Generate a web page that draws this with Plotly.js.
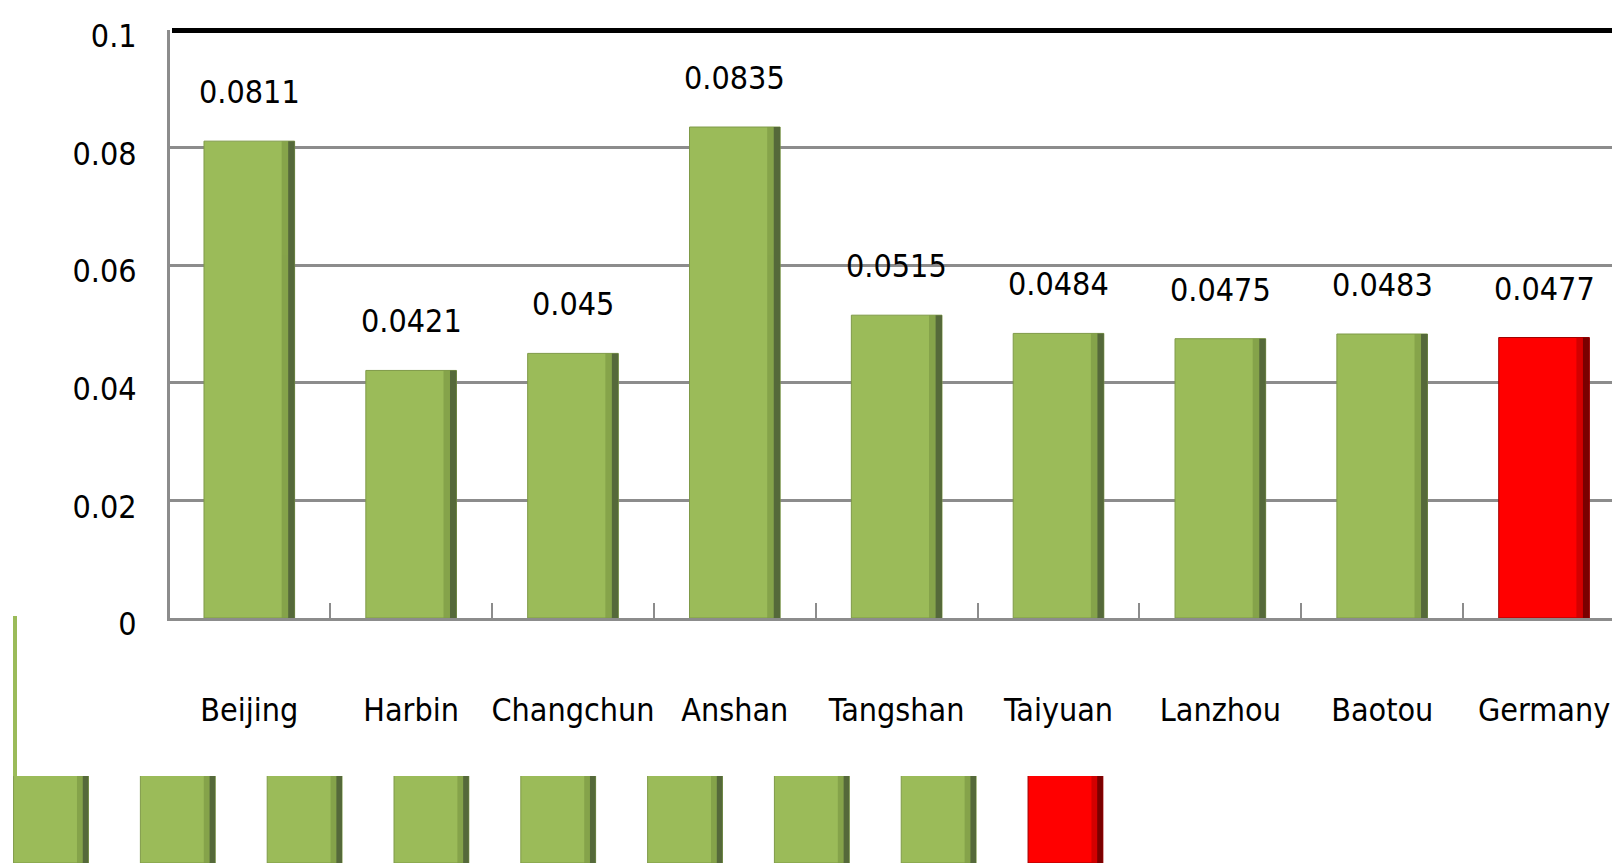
<!DOCTYPE html>
<html>
<head>
<meta charset="utf-8">
<script src="https://cdn.plot.ly/plotly-3.0.1.min.js"></script>
<style>
html,body{margin:0;padding:0;background:#fff;overflow:hidden;}
#chart{width:1612px;height:863px;}
</style>
</head>
<body>
<div id="chart"></div>
<script>
// ---- data ----
const categories = ['Beijing','Harbin','Changchun','Anshan','Tangshan','Taiyuan','Lanzhou','Baotou','Germany'];
const values = [0.0811, 0.0421, 0.045, 0.0835, 0.0515, 0.0484, 0.0475, 0.0483, 0.0477];
const valueLabels = ['0.0811','0.0421','0.045','0.0835','0.0515','0.0484','0.0475','0.0483','0.0477'];
const highlight = 'Germany';
const yTicks = [0, 0.02, 0.04, 0.06, 0.08, 0.1];
const yTickLabels = ['0','0.02','0.04','0.06','0.08','0.1'];

// ---- styles ----
const FONT = '"DejaVu Sans Condensed","DejaVu Sans",sans-serif';
const FS = 32;
const GREEN = '#9bbb59', GREEN_MID = '#7d9a45', GREEN_DARK = '#55693a';
const RED = '#ff0000', RED_MID = '#c00000', RED_DARK = '#7a0000';
const isHi = c => c === highlight;
const mainCol = categories.map(c => isHi(c) ? RED : GREEN);
const midCol = categories.map(c => isHi(c) ? RED_MID : GREEN_MID);
const darkCol = categories.map(c => isHi(c) ? RED_DARK : GREEN_DARK);
const topLine = categories.map(c => isHi(c) ? '#a00000' : '#7f9a48');

const W = 1612, H = 863;
const BW = 0.56;       // bar width (category units), main chart
const SW = 0.59;       // swatch width, bottom strip

function barSet(xa, ya, width, stripFrac) {
  const half = width / 2;
  const s = stripFrac;
  return [
    {type:'bar', x:categories, y:values, xaxis:xa, yaxis:ya, width:width, offset:-half,
     marker:{color:mainCol, line:{color:topLine, width:1}}, hoverinfo:'skip', showlegend:false},
    {type:'bar', x:categories, y:values, xaxis:xa, yaxis:ya, width:s, offset:half - 2*s,
     marker:{color:midCol, line:{width:0}}, opacity:0.7, hoverinfo:'skip', showlegend:false},
    {type:'bar', x:categories, y:values, xaxis:xa, yaxis:ya, width:s, offset:half - s,
     marker:{color:darkCol, line:{width:0}}, hoverinfo:'skip', showlegend:false}
  ];
}

const traces = [
  ...barSet('x', 'y', BW, 0.04),
  ...barSet('x2', 'y2', SW, 0.045)
];

const annotations = categories.map((c, i) => ({
  x: c, y: values[i], xref: 'x', yref: 'y', text: valueLabels[i],
  showarrow: false, yanchor: 'bottom', yshift: 28,
  font: {family: FONT, size: FS, color: '#000'}
}));

const layout = {
  width: W, height: H,
  margin: {l:0, r:0, t:0, b:0, pad:0},
  paper_bgcolor: '#fff', plot_bgcolor: 'rgba(0,0,0,0)',
  barmode: 'overlay',
  showlegend: false,
  font: {family: FONT, size: FS, color: '#000'},
  xaxis: {
    domain: [170/W, 1], type: 'category', range: [-0.49, 8.42],
    showline: true, linecolor: '#8c8c8c', linewidth: 3,
    ticks: 'inside', tickson: 'boundaries', ticklen: 15, tickwidth: 2, tickcolor: '#8c8c8c',
    tickangle: 0, ticklabelstandoff: 62,
    tickfont: {family: FONT, size: FS, color: '#000'},
    showgrid: false, zeroline: false, fixedrange: true, anchor: 'y'
  },
  yaxis: {
    domain: [(H-618)/H, (H-30)/H], range: [0, 0.1],
    tickvals: yTicks, ticktext: yTickLabels,
    showline: true, linecolor: '#8c8c8c', linewidth: 3,
    showgrid: true, gridcolor: '#8c8c8c', gridwidth: 3,
    zeroline: false, ticks: '', ticklabelstandoff: 24, ticklabelshift: 6,
    tickfont: {family: FONT, size: FS, color: '#000'},
    fixedrange: true, anchor: 'x'
  },
  xaxis2: {
    domain: [0, 1], type: 'category', range: [-0.402, 12.31],
    showticklabels: false, ticks: '', showline: false, showgrid: false, zeroline: false,
    anchor: 'y2', fixedrange: true
  },
  yaxis2: {
    domain: [0, (H-776)/H], range: [0, 0.01],
    showticklabels: false, ticks: '', showline: false, showgrid: false, zeroline: false,
    anchor: 'x2', fixedrange: true
  },
  shapes: [
    {type:'line', xref:'paper', yref:'paper', x0:172/W, x1:1, y0:(H-30.5)/H, y1:(H-30.5)/H,
     line:{color:'#000', width:5}, layer:'above'},
    {type:'line', xref:'paper', yref:'paper', x0:15/W, x1:15/W, y0:(H-776)/H, y1:(H-616)/H,
     line:{color:GREEN, width:4}, layer:'above'}
  ],
  annotations: annotations
};

Plotly.newPlot('chart', traces, layout, {displayModeBar:false, staticPlot:true});
</script>
</body>
</html>
